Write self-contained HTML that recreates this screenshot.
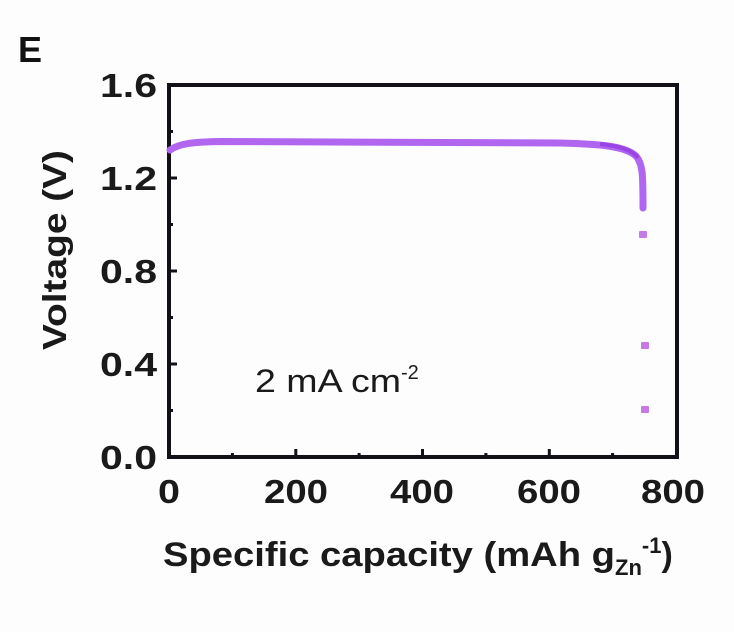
<!DOCTYPE html>
<html><head><style>
body{margin:0;background:#fff;}
svg text{font-family:"Liberation Sans",sans-serif;}
</style></head><body>
<svg width="734" height="632" viewBox="0 0 734 632" xmlns="http://www.w3.org/2000/svg">
<rect width="734" height="632" fill="#fdfdfe"/>
<text x="18" y="62" font-size="36" font-weight="bold" fill="#111">E</text>
<g stroke="#141018" stroke-width="4" fill="none">
<rect x="169" y="85" width="508" height="372"/>
</g>
<g stroke="#141018" stroke-width="3">
<line x1="169" y1="457" x2="169" y2="449"/><line x1="295.8" y1="457" x2="295.8" y2="449"/><line x1="422.5" y1="457" x2="422.5" y2="449"/><line x1="549.3" y1="457" x2="549.3" y2="449"/>
<line x1="232.4" y1="457" x2="232.4" y2="453"/><line x1="359.1" y1="457" x2="359.1" y2="453"/><line x1="485.9" y1="457" x2="485.9" y2="453"/><line x1="612.6" y1="457" x2="612.6" y2="453"/>
<line x1="169" y1="364" x2="177" y2="364"/><line x1="169" y1="271" x2="177" y2="271"/><line x1="169" y1="178" x2="177" y2="178"/>
<line x1="169" y1="410.5" x2="173" y2="410.5"/><line x1="169" y1="317.5" x2="173" y2="317.5"/><line x1="169" y1="224.5" x2="173" y2="224.5"/><line x1="169" y1="131.5" x2="173" y2="131.5"/>
</g>
<g font-size="33" font-weight="bold" fill="#1a1a1a">
<text x="100" y="469" textLength="57" lengthAdjust="spacingAndGlyphs">0.0</text>
<text x="100" y="376" textLength="57" lengthAdjust="spacingAndGlyphs">0.4</text>
<text x="100" y="283" textLength="57" lengthAdjust="spacingAndGlyphs">0.8</text>
<text x="100" y="190" textLength="57" lengthAdjust="spacingAndGlyphs">1.2</text>
<text x="100" y="97" textLength="57" lengthAdjust="spacingAndGlyphs">1.6</text>
</g>
<g font-size="33" font-weight="bold" fill="#1a1a1a">
<text x="158" y="503" textLength="22" lengthAdjust="spacingAndGlyphs">0</text>
<text x="264" y="503" textLength="64" lengthAdjust="spacingAndGlyphs">200</text>
<text x="390" y="503" textLength="64" lengthAdjust="spacingAndGlyphs">400</text>
<text x="517" y="503" textLength="64" lengthAdjust="spacingAndGlyphs">600</text>
<text x="641" y="503" textLength="64" lengthAdjust="spacingAndGlyphs">800</text>
</g>
<text x="163" y="566" font-size="34" font-weight="bold" fill="#1a1a1a"><tspan textLength="452" lengthAdjust="spacingAndGlyphs">Specific capacity (mAh g</tspan><tspan font-size="22" dy="9">Zn</tspan><tspan font-size="22" dy="-22">-1</tspan><tspan dy="13">)</tspan></text>
<text transform="translate(66,350) rotate(-90)" font-size="33" font-weight="bold" fill="#1a1a1a" textLength="200" lengthAdjust="spacingAndGlyphs">Voltage (V)</text>
<text x="255" y="392" font-size="32" fill="#1a1a1a"><tspan textLength="146" lengthAdjust="spacingAndGlyphs">2 mA cm</tspan><tspan font-size="20" dy="-13">-2</tspan></text>
<path d="M170 150 C180 143 195 142 220 141.5 L560 143 C600 144 625 146 636 156 C643 164 643 175 643 208" stroke="#b066ee" stroke-width="7" fill="none" stroke-linecap="round"/>
<path d="M600 144 C620 146 632 150 638 158" stroke="#8a2ee0" stroke-width="4" fill="none" opacity="0.6"/>
<g fill="#c57ae8">
<rect x="639" y="231" width="8" height="7" rx="1"/>
<rect x="641" y="342" width="8" height="7" rx="1"/>
<rect x="641" y="406" width="8" height="7" rx="1"/>
</g>
</svg>
</body></html>
